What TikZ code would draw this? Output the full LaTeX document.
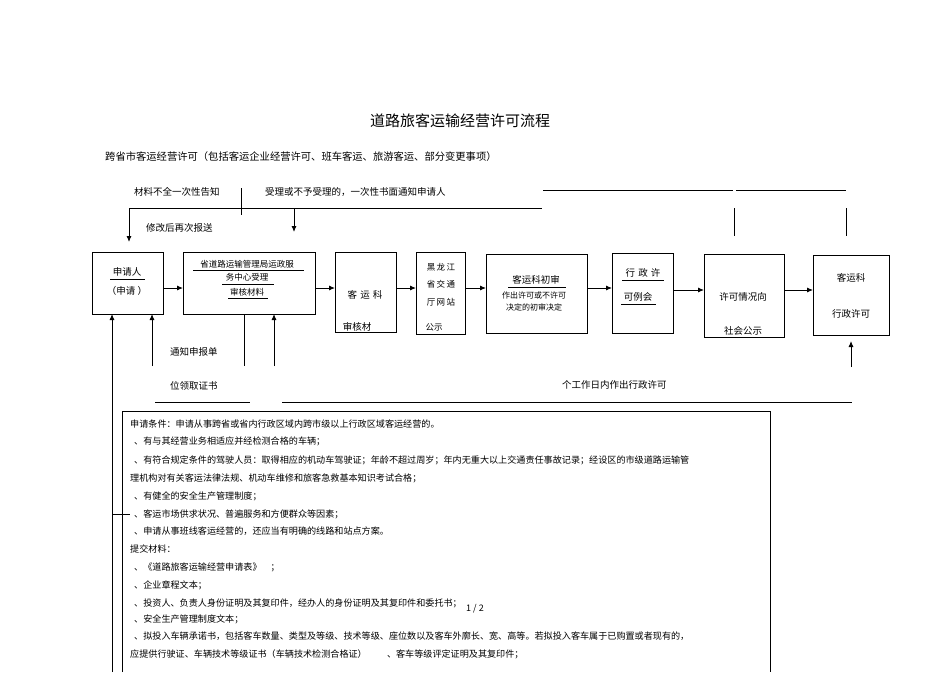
\documentclass[tikz,border=0pt]{standalone}
\usepackage{fontspec}
\setmainfont{Noto Sans CJK SC}
\usetikzlibrary{arrows.meta}
\begin{document}
\begin{tikzpicture}[x=1pt,y=-1pt,
  box/.style={draw,line width=0.8pt},
  arr/.style={-{Latex[length=6pt,width=5pt]},line width=0.9pt},
  ln/.style={line width=0.7pt},
  t/.style={inner sep=0pt,font=\fontsize{9.5}{10}\selectfont},
  s/.style={inner sep=0pt,font=\fontsize{9.1}{10}\selectfont,anchor=west},
]
\useasboundingbox (0,0) rectangle (950,672);
\node[inner sep=0pt,font=\fontsize{15}{16}\selectfont] (title) at (460,121) {道路旅客运输经营许可流程};
\node[t,anchor=west,font=\fontsize{10.3}{11}\selectfont] (sub) at (105,157) {跨省市客运经营许可（包括客运企业经营许可、班车客运、旅游客运、部分变更事项）};
\node[t,anchor=west] (l1) at (134,192) {材料不全一次性告知};
\node[t,anchor=west] (l2) at (265,192) {受理或不予受理的，一次性书面通知申请人};
\node[t,anchor=west] (l3) at (146,228) {修改后再次报送};
\draw[ln] (241,188) -- (241,215);
\coordinate (tl) at (129,208); \coordinate (tr) at (542,208);
\draw[ln] (tl) -- (tr);
\draw[ln] (543,190) -- (733,190); \draw[ln] (736,190) -- (846,190);
\draw[ln] (734,208) -- (734,236); \draw[ln] (846,208) -- (846,236);
% boxes
\draw[box] (92,252) rectangle (163,314);
\node[t] (b1a) at (127,272) {申请人}; \draw[ln] (110,279) -- (145,279);
\node[t] (b1b) at (127,291) {（申请 ）};
\draw[box] (183,252) rectangle (315,314);
\node[t,font=\fontsize{8.5}{9}\selectfont] (b2a) at (247,264) {省道路运输管理局运政服};
\draw[ln] (193,270) -- (304,270);
\node[t,font=\fontsize{8.5}{9}\selectfont] (b2b) at (247,277) {务中心受理}; \draw[ln] (222,284) -- (274,284);
\node[t,font=\fontsize{8.5}{9}\selectfont] (b2c) at (247,292) {审核材料}; \draw[ln] (228,298) -- (268,298);
\draw[box] (335,252) rectangle (396,332);
\node[t] (b3a) at (365,295) {客\,\,运\,\,科};
\node[t] (b3b) at (357,327) {审核材};
\draw[box] (416,252) rectangle (465,334);
\node[t,font=\fontsize{8.5}{9}\selectfont] (b4a) at (441,267) {黑\,龙\,江};
\node[t,font=\fontsize{8.5}{9}\selectfont] (b4b) at (441,284) {省\,交\,通};
\node[t,font=\fontsize{8.5}{9}\selectfont] (b4c) at (441,302) {厅\,网\,站};
\node[t,font=\fontsize{8.5}{9}\selectfont] (b4d) at (434,327) {公示};
\draw[box] (486,254) rectangle (587,333);
\node[t] (b5a) at (536,280) {客运科初审}; \draw[ln] (508,287) -- (566,287);
\node[t,font=\fontsize{8}{9}\selectfont] (b5b) at (534,295) {作出许可或不许可};
\node[t,font=\fontsize{8}{9}\selectfont] (b5c) at (534,307) {决定的初审决定};
\draw[box] (612,253) rectangle (673,333);
\node[t] (b6a) at (643,273) {行\,\,政\,\,许}; \draw[ln] (622,280) -- (664,280);
\node[t] (b6b) at (638,297) {可例会}; \draw[ln] (621,304) -- (656,304);
\draw[box] (704,254) rectangle (784,337);
\node[t] (b7a) at (743,297) {许可情况向};
\node[t] (b7b) at (743,331) {社会公示};
\draw[box] (813,255) rectangle (889,335);
\node[t] (b8a) at (851,278) {客运科};
\node[t] (b8b) at (851,314) {行政许可};
\foreach \a/\b/\y in {163/183/288,315/335/288,396/416/288,465/486/288,587/612/288,673/704/290,784/813/290}
  \draw[arr] (\a,\y) -- (\b,\y);
\draw[arr] (tl) -- (129,242);
\draw[arr] (294,208) -- (294,232);
\draw[arr] (112,672) -- (112,314);
\draw[arr] (152,366) -- (152,314);
\draw[ln] (244,314) -- (244,366);
\draw[arr] (274,366) -- (274,314);
\draw[arr] (851,367) -- (851,341);
\node[t,anchor=west] (n1) at (170,352) {通知申报单};
\node[t,anchor=west] (n2) at (170,386) {位领取证书};
\node[t,anchor=west] (n3) at (562,385) {个工作日内作出行政许可};
\draw[ln] (155,402) -- (250,402); \draw[ln] (282,402) -- (852,402);
\draw[box] (122,672) -- (122,411) -- (770,411) -- (770,672);
\draw[ln] (113,514) -- (130,514);
\node[s] at (130,424) {申请条件：申请从事跨省或省内行政区域内跨市级以上行政区域客运经营的。};
\node[s] at (134,441) {、有与其经营业务相适应并经检测合格的车辆；};
\node[s] at (134,460) {、有符合规定条件的驾驶人员：取得相应的机动车驾驶证；年龄不超过周岁；年内无重大以上交通责任事故记录；经设区的市级道路运输管};
\node[s] at (130,478) {理机构对有关客运法律法规、机动车维修和旅客急救基本知识考试合格；};
\node[s] at (134,496) {、有健全的安全生产管理制度；};
\node[s] at (134,514) {、客运市场供求状况、普遍服务和方便群众等因素；};
\node[s] at (134,531) {、申请从事班线客运经营的，还应当有明确的线路和站点方案。};
\node[s] at (130,549) {提交材料：};
\node[s] at (134,567) {、《道路旅客运输经营申请表》\quad；};
\node[s] at (134,585) {、企业章程文本；};
\node[s] at (134,603) {、投资人、负责人身份证明及其复印件，经办人的身份证明及其复印件和委托书；};
\node[s] at (134,619) {、安全生产管理制度文本；};
\node[s] at (134,636) {、拟投入车辆承诺书，包括客车数量、类型及等级、技术等级、座位数以及客车外廓长、宽、高等。若拟投入客车属于已购置或者现有的，};
\node[s] at (130,654) {应提供行驶证、车辆技术等级证书（车辆技术检测合格证）\qquad\ 、客车等级评定证明及其复印件；};
\node[inner sep=0pt,font=\fontsize{9}{9}\selectfont] at (475,609) {1 / 2};
\end{tikzpicture}
\end{document}
